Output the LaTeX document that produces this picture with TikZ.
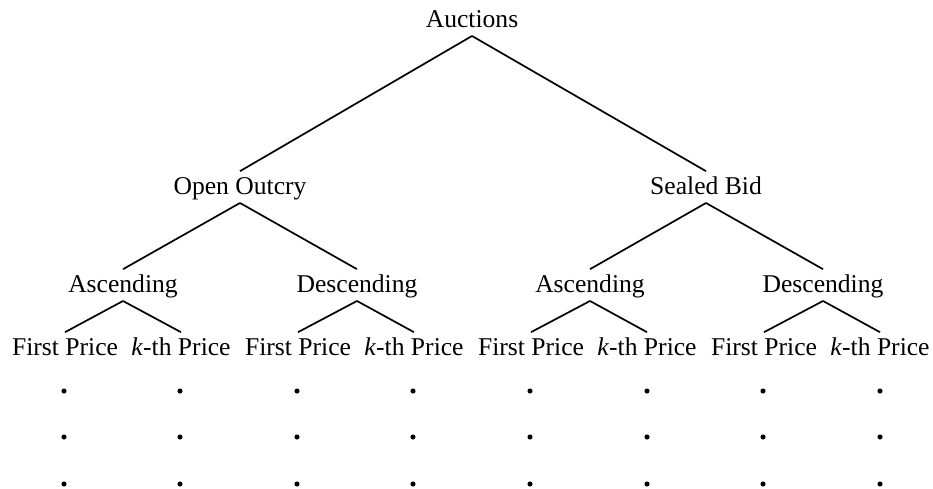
\documentclass[tikz,border=0pt]{standalone}
\usepackage{fontspec}
\setmainfont{Liberation Serif}

\begin{document}
\begin{tikzpicture}[x=0.46875pt,y=-0.46875pt,line width=0.8pt,
	lbl/.style={font=\fontsize{12}{14}\selectfont,anchor=base,text height=8pt,text depth=1.5pt,inner xsep=0pt,inner ysep=2.3pt},
	vdot/.style={circle,fill,inner sep=0pt,minimum size=2.4pt}]

\useasboundingbox (0,0) rectangle (933,488);

\node[lbl](auc) at (472,27){Auctions};
\node[lbl](open) at (240,194){Open Outcry};
\node[lbl](sealed) at (706,194){Sealed Bid};
\node[lbl](oasc) at (123,292){Ascending};
\node[lbl](odesc) at (357,292){Descending};
\node[lbl](sasc) at (590,292){Ascending};
\node[lbl](sdesc) at (823,292){Descending};

\node[lbl](l1) at (65,355){First Price};
\node[lbl](l2) at (181,355){\textit{k}-th Price};
\node[lbl](l3) at (298,355){First Price};
\node[lbl](l4) at (414,355){\textit{k}-th Price};
\node[lbl](l5) at (531,355){First Price};
\node[lbl](l6) at (647,355){\textit{k}-th Price};
\node[lbl](l7) at (764,355){First Price};
\node[lbl](l8) at (880,355){\textit{k}-th Price};

\path(auc.south)edge(open.north)
	(auc.south)edge(sealed.north)
	(open.south)edge(oasc.north)
	(open.south)edge(odesc.north)
	(sealed.south)edge(sasc.north)
	(sealed.south)edge(sdesc.north)
	(oasc.south)edge(l1.north)
	(oasc.south)edge(l2.north)
	(odesc.south)edge(l3.north)
	(odesc.south)edge(l4.north)
	(sasc.south)edge(l5.north)
	(sasc.south)edge(l6.north)
	(sdesc.south)edge(l7.north)
	(sdesc.south)edge(l8.north);

% dots under each leaf
\foreach \x/\n in {64/1,180/2,297/3,413/4,530/5,647/6,763/7,880/8}
	\foreach \y/\m in {391/a,437/b,484/c}
		\node[vdot](d\n\m) at (\x,\y){};

\end{tikzpicture}
\end{document}
